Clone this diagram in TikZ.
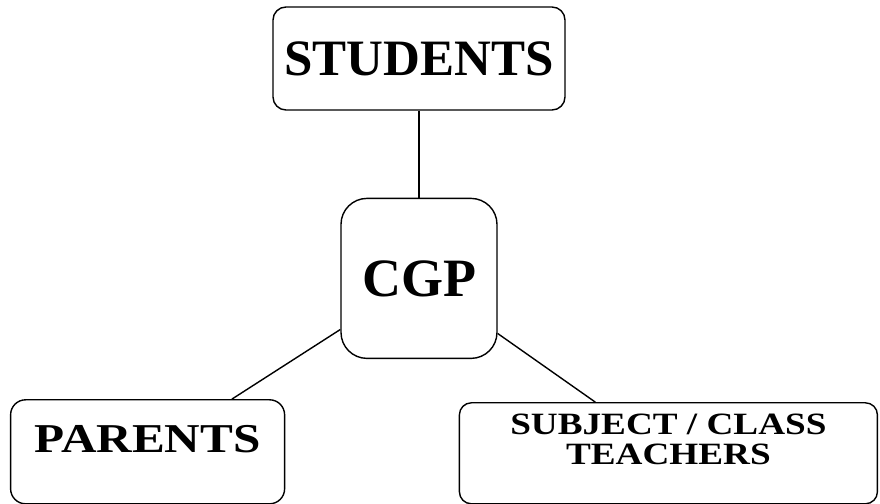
\documentclass[tikz,border=0pt]{standalone}
\usepackage{fontspec}
\setmainfont{Liberation Serif}
\newfontfamily\widefont[FakeStretch=1.2]{Liberation Serif}
\usepackage{tikz}
\usetikzlibrary{positioning}

\begin{document}
\begin{tikzpicture}[
    x=1pt, y=1pt,
    box/.style={rectangle, draw=black, line width=1.4pt, fill=white, inner sep=0pt},
    link/.style={line width=1.4pt, draw=black}
]
    \useasboundingbox (0,0) rectangle (880,503);

    % Nodes
    \node[box, rounded corners=13pt, minimum width=292pt, minimum height=103pt,
          font=\fontsize{51}{56}\selectfont\bfseries] (students) at (419,444.5) {STUDENTS};
    \node[box, rounded corners=26pt, minimum width=156pt, minimum height=160pt,
          font=\fontsize{54}{60}\selectfont\bfseries, below=87pt of students] (cgp) {CGP};
    \node[box, rounded corners=15pt, minimum width=274pt, text height=53pt, text depth=51pt,
          font=\widefont\fontsize{41}{46}\selectfont\bfseries, below left=40pt and 55pt of cgp] (parents) {PARENTS};
    \node[box, rounded corners=12pt, minimum width=418pt, text height=32pt, text depth=69pt,
          font=\widefont\fontsize{31}{30}\selectfont\bfseries, below right=43pt and -39pt of cgp] (teachers) {%
        \begin{tabular}[t]{@{}c@{}}
            SUBJECT / CLASS\\
            TEACHERS
        \end{tabular}};

    % Links
    \draw[link] (students) -- (cgp);
    \draw[link] (cgp.213) -- (parents.32);
    \draw[link] (cgp.325) -- (teachers.145);
\end{tikzpicture}
\end{document}
